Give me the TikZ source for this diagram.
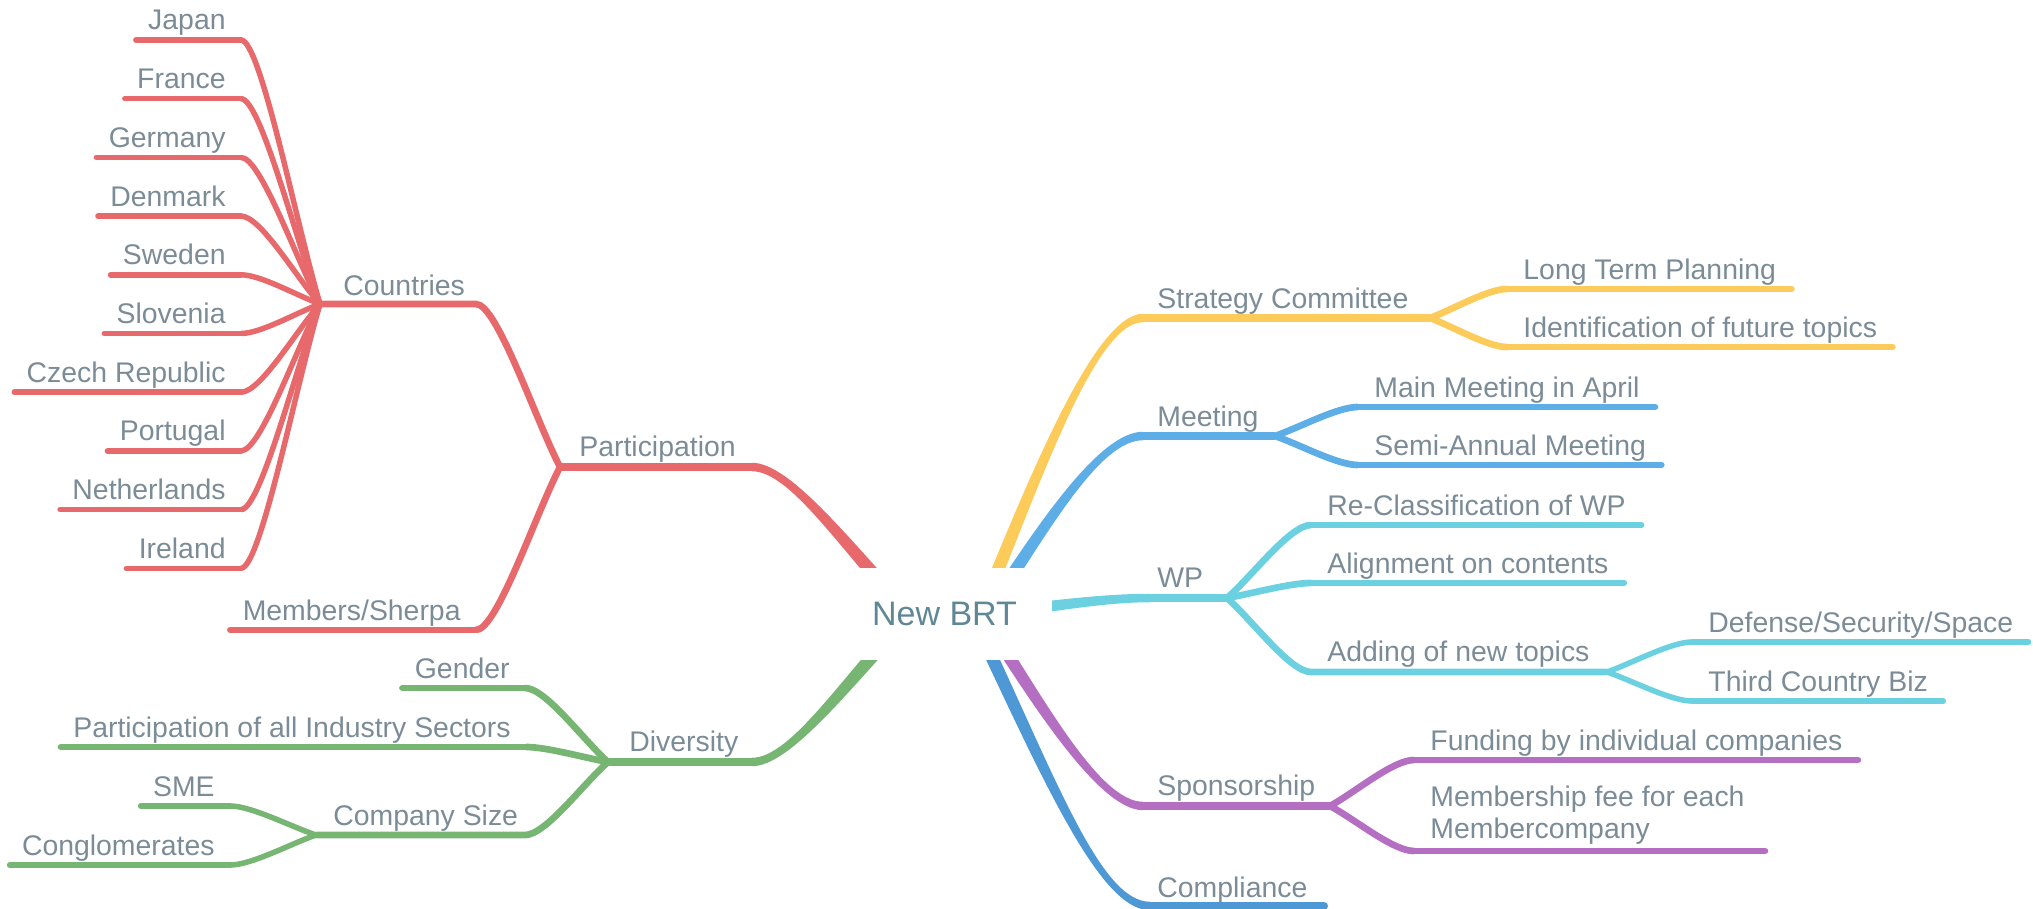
\documentclass[tikz,border=0pt]{standalone}
\usepackage{fontspec}
\setmainfont{Liberation Sans}
\usetikzlibrary{calc}
\definecolor{cred}{HTML}{E8696B}
\definecolor{cgreen}{HTML}{76B572}
\definecolor{cyel}{HTML}{FDCB5A}
\definecolor{cblue}{HTML}{5DADE6}
\definecolor{ccyan}{HTML}{6BD1E0}
\definecolor{cpurp}{HTML}{B56FC2}
\definecolor{ccomp}{HTML}{4E98D6}
\definecolor{ctext}{HTML}{7B8C97}
\definecolor{croot}{HTML}{5F8796}
\tikzset{
  lab/.style={font=\fontsize{14.2}{16}\selectfont, text=ctext, inner sep=0pt},
  rlab/.style={lab, anchor=base west},
  llab/.style={lab, anchor=base east},
  lone/.style={line width=4.25pt},
  ltwo/.style={line width=3.35pt},
  lthree/.style={line width=2.75pt},
  forkcurve/.style={to path={.. controls ($(\tikztostart)!0.3!(\tikztotarget)$) and ($(\tikztotarget)!0.25!(\tikztotarget-|\tikztostart)$) .. (\tikztotarget)}},
  rootbox/.style={fill=white, inner sep=0pt, minimum width=107.5pt, minimum height=46pt,
    font=\fontsize{17}{20}\selectfont, text=croot},
}
% tapered main branch: color, P0, P1, P2, P3, half width at P0, half width at P3
\newcommand\taper[7]{%
  \fill[#1] let \p1=#2, \p2=#3, \p3=#4, \p4=#5,
    \n1={atan2(\y2-\y1,\x2-\x1)}, \n2={atan2(\y4-\y3,\x4-\x3)} in
    ($(\p1)+(\n1+90:#6)$) .. controls ($(\p2)+(\n1+90:#6)$) and ($(\p3)+(\n2+90:#7)$) .. ($(\p4)+(\n2+90:#7)$)
    -- ($(\p4)+(\n2-90:#7)$) .. controls ($(\p3)+(\n2-90:#7)$) and ($(\p2)+(\n1-90:#6)$) .. ($(\p1)+(\n1-90:#6)$) -- cycle;
}
% left leaf: style, name, text, line y, corner x, parent junction
\newcommand\lleaf[6]{%
  \node[llab] (t#2) at (#5-15,#4-10) {#3};
  \coordinate (c#2) at (#5,#4);
  \coordinate (s#2) at ($(t#2.west|-c#2)+(-12,0)$);
  \draw[#1] (#6) to[forkcurve] (c#2);
  \draw[#1,line cap=round] (c#2) -- (s#2);
}
% right leaf: style, name, text, line y, corner x, parent junction
\newcommand\rleaf[6]{%
  \node[rlab] (t#2) at (#5+16,#4-10) {#3};
  \coordinate (c#2) at (#5,#4);
  \coordinate (e#2) at ($(t#2.east|-c#2)+(15,0)$);
  \draw[#1] (#6) to[forkcurve] (c#2);
  \draw[#1,line cap=round] (c#2) -- (e#2);
}
\begin{document}
\begin{tikzpicture}[x=0.5pt,y=-0.5pt]
\useasboundingbox (0,0) rectangle (2033,909);

% ---------- junctions and corners ----------
\coordinate (rc) at (944.5,614);
\coordinate (pc) at (752,467);  \coordinate (pj) at (560,467);
\coordinate (dc) at (752,762);  \coordinate (dj) at (608,762);
\coordinate (sc) at (1143,318); \coordinate (sj) at (1430,318);
\coordinate (mc) at (1143,436); \coordinate (mj) at (1275,436);
\coordinate (wc) at (1150,598); \coordinate (wj) at (1227,598);
\coordinate (spc) at (1143,806); \coordinate (spj) at (1330,806);
\coordinate (cc) at (1150,906);
\coordinate (coc) at (476,304); \coordinate (coj) at (320,304);
\coordinate (csc) at (525,835); \coordinate (csj) at (316,835);
\coordinate (adc) at (1311,672); \coordinate (adj) at (1607,672);

% ---------- main branches from the root ----------
\taper{cred}{(pc)}{(790,467)}{(845,545)}{(905,609)}{2.125pt}{3.4pt}
\taper{cgreen}{(dc)}{(790,762)}{(845,684)}{(905,620)}{2.125pt}{3.4pt}
\taper{cyel}{(sc)}{(1095,318)}{(1035,480)}{(982,609)}{2.125pt}{3.2pt}
\taper{cblue}{(mc)}{(1100,436)}{(1045,525)}{(990,609)}{2.125pt}{3.2pt}
\taper{ccyan}{(wc)}{(1100,598)}{(1040,608)}{(990,614)}{2.125pt}{3.0pt}
\taper{cpurp}{(spc)}{(1100,806)}{(1040,705)}{(985,619)}{2.125pt}{3.2pt}
\taper{ccomp}{(cc)}{(1100,906)}{(1050,780)}{(973,617)}{2.125pt}{3.2pt}

% ---------- Participation ----------
\draw[lone,cred] (pc) -- (pj);
\node[rlab] (tpart) at (579,456) {Participation};
\draw[ltwo,cred] (pj) to[forkcurve] (coc) -- (coj);
\node[rlab] (tcountries) at (343,295) {Countries};
\lleaf{ltwo,cred}{mem}{Members/Sherpa}{630}{476}{pj}
\lleaf{lthree,cred}{ja}{Japan}{40}{241}{coj}
\lleaf{lthree,cred}{fr}{France}{98.7}{241}{coj}
\lleaf{lthree,cred}{ge}{Germany}{157.4}{241}{coj}
\lleaf{lthree,cred}{de}{Denmark}{216.1}{241}{coj}
\lleaf{lthree,cred}{sw}{Sweden}{274.8}{241}{coj}
\lleaf{lthree,cred}{sl}{Slovenia}{333.5}{241}{coj}
\lleaf{lthree,cred}{cz}{Czech Republic}{392.2}{241}{coj}
\lleaf{lthree,cred}{po}{Portugal}{450.9}{241}{coj}
\lleaf{lthree,cred}{ne}{Netherlands}{509.6}{241}{coj}
\lleaf{lthree,cred}{ir}{Ireland}{568.3}{241}{coj}

% ---------- Diversity ----------
\draw[lone,cgreen] (dc) -- (dj);
\node[rlab] (tdiv) at (629,751) {Diversity};
\lleaf{ltwo,cgreen}{gen}{Gender}{688}{525}{dj}
\lleaf{ltwo,cgreen}{pai}{Participation of all Industry Sectors}{747}{526}{dj}
\draw[ltwo,cgreen] (dj) to[forkcurve] (csc) -- (csj);
\node[rlab] (tcs) at (333,825) {Company Size};
\lleaf{lthree,cgreen}{sme}{SME}{806}{230}{csj}
\lleaf{lthree,cgreen}{con}{Conglomerates}{865}{230}{csj}

% ---------- Strategy Committee ----------
\draw[lone,cyel] (sc) -- (sj);
\node[rlab] (tsc) at (1157,308) {Strategy Committee};
\rleaf{ltwo,cyel}{ltp}{Long Term Planning}{289}{1507}{sj}
\rleaf{ltwo,cyel}{ift}{Identification of future topics}{347}{1507}{sj}

% ---------- Meeting ----------
\draw[lone,cblue] (mc) -- (mj);
\node[rlab] (tmeet) at (1157,426) {Meeting};
\rleaf{ltwo,cblue}{mma}{Main Meeting in April}{407}{1358}{mj}
\rleaf{ltwo,cblue}{sam}{Semi-Annual Meeting}{465}{1358}{mj}

% ---------- WP ----------
\draw[lone,ccyan] (wc) -- (wj);
\node[rlab] (twp) at (1157,587) {WP};
\rleaf{ltwo,ccyan}{rcl}{Re-Classification of WP}{525}{1311}{wj}
\rleaf{ltwo,ccyan}{aoc}{Alignment on contents}{583}{1311}{wj}
\draw[ltwo,ccyan] (wj) to[forkcurve] (adc) -- (adj);
\node[rlab] (tadd) at (1327,661) {Adding of new topics};
\rleaf{lthree,ccyan}{dss}{Defense/Security/Space}{642}{1692}{adj}
\rleaf{lthree,ccyan}{tcb}{Third Country Biz}{701}{1692}{adj}

% ---------- Sponsorship ----------
\draw[lone,cpurp] (spc) -- (spj);
\node[rlab] (tspo) at (1157,795) {Sponsorship};
\rleaf{ltwo,cpurp}{fun}{Funding by individual companies}{760}{1414}{spj}
\node[lab, anchor=south west, align=left] (tmfe) at (1430,845) {Membership fee for each\\Membercompany};
\coordinate (cmfe) at (1414,851);
\coordinate (emfe) at ($(tmfe.east|-cmfe)+(20,0)$);
\draw[ltwo,cpurp] (spj) to[forkcurve] (cmfe);
\draw[ltwo,cpurp,line cap=round] (cmfe) -- (emfe);

% ---------- Compliance ----------
\node[rlab] (tcomp) at (1157,897) {Compliance};
\coordinate (ecomp) at ($(tcomp.east|-cc)+(16,0)$);
\draw[lone,ccomp,line cap=round] (cc) -- (ecomp);

% ---------- root ----------
\node[rootbox] (root) at (rc) {New BRT};
\end{tikzpicture}
\end{document}
